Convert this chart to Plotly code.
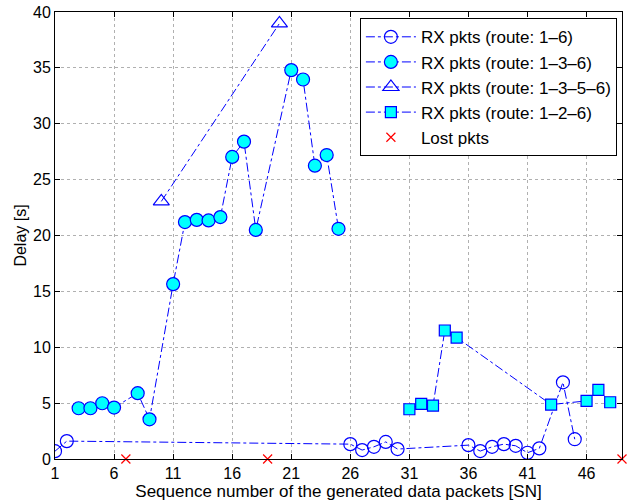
import plotly.graph_objects as go

# Route 1-6 (open circles)
r16_x = [1, 2, 26, 27, 28, 29, 30, 36, 37, 38, 39, 40, 41, 42, 44, 45]
r16_y = [0.7, 1.6, 1.33, 0.8, 1.09, 1.53, 0.89, 1.24, 0.71, 1.09, 1.33, 1.18, 0.56, 0.95, 6.86, 1.77]

# Route 1-3-6 (filled cyan circles)
r136_x = [3, 4, 5, 6, 8, 9, 11, 12, 13, 14, 15, 16, 17, 18, 21, 22, 23, 24, 25]
r136_y = [4.54, 4.54, 4.99, 4.6, 5.89, 3.55, 15.65, 21.2, 21.4, 21.35, 21.65, 27.03, 28.4, 20.5,
          34.8, 33.96, 26.25, 27.2, 20.6]

# Route 1-3-5-6 (open triangles)
r1356_x = [10, 20]
r1356_y = [23.05, 38.98]

# Route 1-2-6 (cyan squares)
r126_x = [31, 32, 33, 34, 35, 43, 46, 47, 48]
r126_y = [4.45, 4.93, 4.78, 11.5, 10.87, 4.87, 5.2, 6.18, 5.08]

# Lost packets
lost_x = [7, 19, 49]
lost_y = [0, 0, 0]

x_ticks = [1, 6, 11, 16, 21, 26, 31, 36, 41, 46]
y_ticks = [0, 5, 10, 15, 20, 25, 30, 35, 40]

blue = "#0000FF"
cyan = "#00FFFF"
line = dict(color=blue, width=1, dash="dashdot")

fig = go.Figure()
fig.add_trace(go.Scatter(x=r16_x, y=r16_y, mode="lines+markers", name="RX pkts (route: 1\u20136)",
                         line=line, marker=dict(symbol="circle-open", size=13, color=blue,
                                                line=dict(width=1.2, color=blue))))
fig.add_trace(go.Scatter(x=r136_x, y=r136_y, mode="lines+markers", name="RX pkts (route: 1\u20133\u20136)",
                         line=line, marker=dict(symbol="circle", size=13, color=cyan,
                                                line=dict(width=1.2, color=blue))))
fig.add_trace(go.Scatter(x=r1356_x, y=r1356_y, mode="lines+markers", name="RX pkts (route: 1\u20133\u20135\u20136)",
                         line=line, marker=dict(symbol="triangle-up-open", size=14, color=blue,
                                                line=dict(width=1.2, color=blue))))
fig.add_trace(go.Scatter(x=r126_x, y=r126_y, mode="lines+markers", name="RX pkts (route: 1\u20132\u20136)",
                         line=line, marker=dict(symbol="square", size=11, color=cyan,
                                                line=dict(width=1.2, color=blue))))
fig.add_trace(go.Scatter(x=lost_x, y=lost_y, mode="markers", name="Lost pkts", cliponaxis=False,
                         marker=dict(symbol="x-thin", size=9, color="red",
                                     line=dict(width=1.2, color="red"))))

axis_common = dict(showline=True, linecolor="black", linewidth=1, mirror="ticks",
                   ticks="inside", ticklen=5, tickcolor="black",
                   showgrid=True, gridcolor="#b0b0b0", griddash="dot", gridwidth=1,
                   zeroline=False, tickfont=dict(size=16, color="black"))

fig.update_layout(
    width=627, height=503,
    margin=dict(l=55, r=5, t=12, b=44),
    plot_bgcolor="white", paper_bgcolor="white",
    font=dict(family="Liberation Sans, Arial, sans-serif", size=16, color="black"),
    xaxis=dict(range=[1, 49], tickvals=x_ticks,
               title=dict(text="Sequence number of the generated data packets [SN]", standoff=0,
                          font=dict(size=17)), **axis_common),
    yaxis=dict(range=[0, 40], tickvals=y_ticks,
               title=dict(text="Delay [s]", standoff=2, font=dict(size=16)), **axis_common),
    legend=dict(x=0.991, y=0.986, xanchor="right", yanchor="top",
                bordercolor="black", borderwidth=1, bgcolor="white",
                font=dict(size=17), tracegroupgap=0, itemsizing="trace", itemwidth=50),
    showlegend=True,
)

fig.write_html("out.html")
